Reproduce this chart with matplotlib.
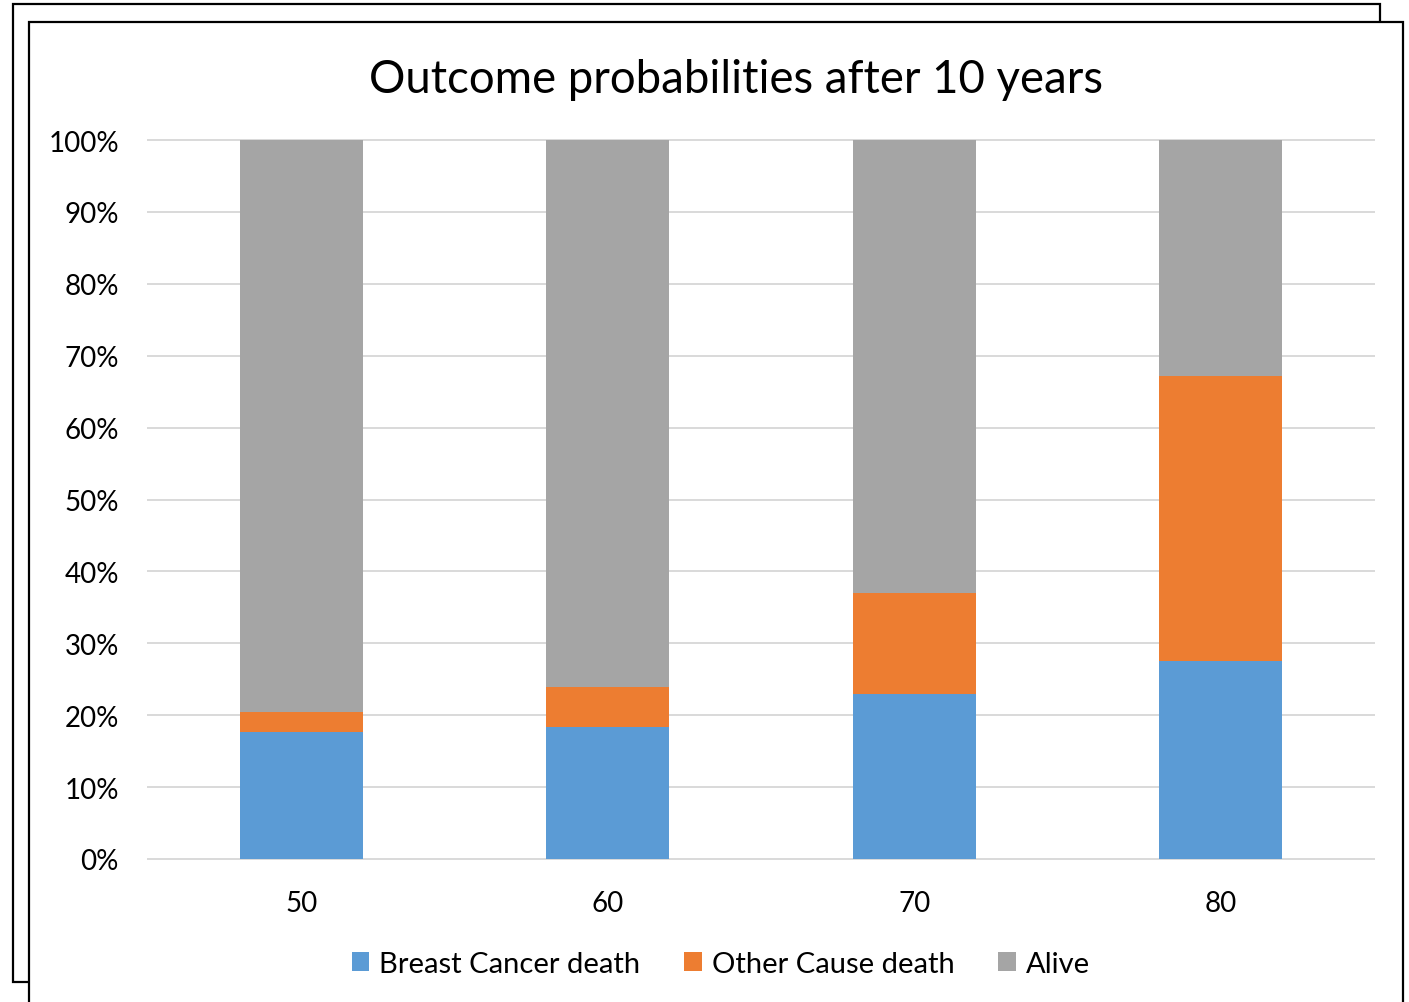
import matplotlib.pyplot as plt
from matplotlib.patches import Rectangle
import numpy as np

# datos (porcentajes)
edades = ['50', '60', '70', '80']
cancer_mama = [17.65, 18.4, 22.9, 27.6]
otra_causa = [2.8, 5.55, 14.15, 39.6]
vivos = [100 - a - b for a, b in zip(cancer_mama, otra_causa)]
series = ['Breast Cancer death', 'Other Cause death', 'Alive']
colores = ['#5B9BD5', '#ED7D31', '#A5A5A5']

plt.rcParams['font.family'] = ['Lato', 'DejaVu Sans']

W, H = 1409, 1003
fig = plt.figure(figsize=(W / 100, H / 100), dpi=100)

# marcos: el de atras y el de delante (tapa al otro)
def px_rect(x0, y0, x1, y1, z):
    r = Rectangle((x0 / W, 1 - y1 / H), (x1 - x0) / W, (y1 - y0) / H,
                  transform=fig.transFigure, facecolor='white',
                  edgecolor='black', linewidth=1.6, zorder=z)
    fig.add_artist(r)

px_rect(13, 5, 1380, 983, -3)
px_rect(29, 23, 1403, 1010, -2)

ax = fig.add_axes([148 / W, 1 - 860 / H, (1374 - 148) / W, (860 - 141) / H])
ax.patch.set_alpha(0)

x = np.arange(len(edades))
abajo = np.zeros(len(edades))
for nombre, vals, c in zip(series, [cancer_mama, otra_causa, vivos], colores):
    vals = np.array(vals) / 100
    ax.bar(x, vals, 0.4, bottom=abajo, color=c, label=nombre, zorder=2)
    abajo += vals

ax.set_xlim(-0.5, 3.5)
ax.set_ylim(0, 1)
ax.set_yticks(np.arange(0, 1.01, 0.1))
ax.set_yticklabels([f'{int(round(v * 100))}%' for v in np.arange(0, 1.01, 0.1)])
ax.set_xticks(x)
ax.set_xticklabels(edades)
ax.tick_params(axis='both', length=0, labelsize=20)
ax.tick_params(axis='y', pad=21)
ax.tick_params(axis='x', pad=22)
ax.grid(axis='y', color='#D9D9D9', linewidth=1.4, zorder=0)
ax.set_axisbelow(True)
for s in ax.spines.values():
    s.set_visible(False)
for gl in ax.get_ygridlines():
    gl.set_clip_on(False)

fig.text(736 / W, 1 - 80 / H, 'Outcome probabilities after 10 years',
         ha='center', va='center', fontsize=32.8)

fig.legend(loc='center', bbox_to_anchor=(721 / W, 1 - 965 / H), ncol=3,
           frameon=False, fontsize=21, handlelength=0.6, handleheight=0.6,
           handletextpad=0.35, columnspacing=1.5)

fig.savefig('out.png', dpi=100)
